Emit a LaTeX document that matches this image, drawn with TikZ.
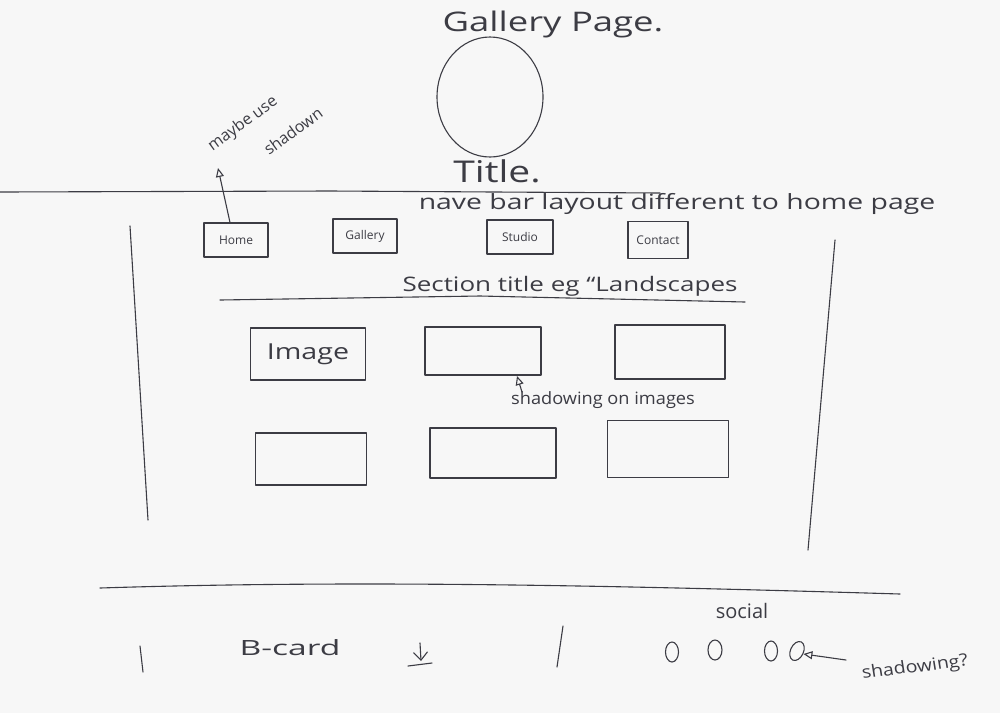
\documentclass[tikz,border=0pt]{standalone}
\usepackage{fontspec}
\setmainfont{Open Sans}
\usetikzlibrary{arrows.meta,shapes.geometric}
\definecolor{paper}{HTML}{F7F7F7}
\definecolor{pen}{HTML}{3C3C44}
\begin{document}
\begin{tikzpicture}[x=1pt,y=-1pt,color=pen,line width=1.1pt,line cap=round,line join=round,
  ink/.style={text=pen,inner sep=0pt},
  navbox/.style={draw=pen,ink,font=\fontsize{12}{14}\selectfont,minimum height=34pt},
  imgbox/.style={draw=pen,ink,font=\fontsize{22}{24}\selectfont},
  bubble/.style={draw=pen,ellipse,minimum width=13pt,minimum height=20pt,inner sep=0pt},
  pointer/.style={-{Triangle[open,length=9pt,width=8pt]}},
  hand/.style={ink,font=\fontsize{#1}{#1}\selectfont},
  hand/.default=18]
% paper
\fill[paper] (0,0) rectangle (1000,713);
\useasboundingbox (0,0) rectangle (1000,713);

% header
\node[hand=27,xscale=1.35] (pagetitle) at (553,24) {Gallery Page.};
\node[bubble,minimum width=106pt,minimum height=120pt] (logo) at (490,97) {};
\node[hand=30,xscale=1.3] (title) at (497,171) {Title.};
\node[hand=16,rotate=36] (maybeuse) at (243,124) {maybe use};
\node[hand=16,rotate=36] (shadown) at (293,131) {shadown};

% header rule and nav note
\draw (0,192) -- (330,191) -- (660,193);
\node[hand=21,xscale=1.35] (navnote) at (677,204) {nave bar layout different to home page};

% nav buttons
\node[navbox,minimum width=64pt] (home) at (236,240) {Home};
\node[navbox,minimum width=64pt] (gallery) at (365,236) {Gallery};
\node[navbox,minimum width=66pt] (studio) at (520,237) {Studio};
\node[navbox,minimum width=60pt,minimum height=37pt] (contact) at (658,240) {Contact};
\coordinate (maybetip) at (218,168);
\draw[pointer] ([xshift=-6pt]home.north) -- (maybetip);

% side rules
\draw (130,226) -- (148,520);
\draw (835,240) -- (808,550);

% section heading
\node[hand=20,xscale=1.3] (section) at (570,286) {Section title eg “Landscapes};
\draw (220,300) -- (480,296) -- (745,302);

% image grid
\node[imgbox,minimum width=115pt,minimum height=52pt] (img11) at (308,354) {\scalebox{1.3}[1]{Image}};
\node[imgbox,minimum width=116pt,minimum height=48pt] (img12) at (483,351) {};
\node[imgbox,minimum width=110pt,minimum height=54pt] (img13) at (670,352) {};
\node[imgbox,minimum width=111pt,minimum height=52pt] (img21) at (311,459) {};
\node[imgbox,minimum width=126pt,minimum height=50pt] (img22) at (493,453) {};
\node[imgbox,minimum width=121pt,minimum height=57pt] (img23) at (668,449) {};

\node[hand=17,xscale=1.07] (shadowimg) at (603,400) {shadowing on images};
\coordinate (imgtip) at (517,376);
\draw[pointer] (522,392) -- (imgtip);

% footer rule
\draw (100,588) .. controls (350,580) and (600,585) .. (900,594);

% footer content
\draw (140,646) -- (143,672);
\node[hand=21,xscale=1.6] (bcard) at (290,648) {B-card};
\coordinate (dlup) at (420,643);
\coordinate (dldown) at (421,661);
\draw[-{Straight Barb[length=8pt,width=14pt]}] (dlup) -- (dldown);
\draw (408,666) -- (432,663);
\draw (563,626) -- (557,667);

\node[hand=20] (social) at (742,611) {social};
\node[bubble] (s1) at (672,652) {};
\node[bubble,minimum width=14pt] (s2) at (715,650) {};
\node[bubble] (s3) at (771,651) {};
\node[bubble,rotate=-25] (s4) at (797,651) {};
\node[hand=17,xscale=1.15,rotate=8] (shadowq) at (915,668) {shadowing?};
\draw[pointer] (846,660) -- (s4.east);
\end{tikzpicture}
\end{document}
